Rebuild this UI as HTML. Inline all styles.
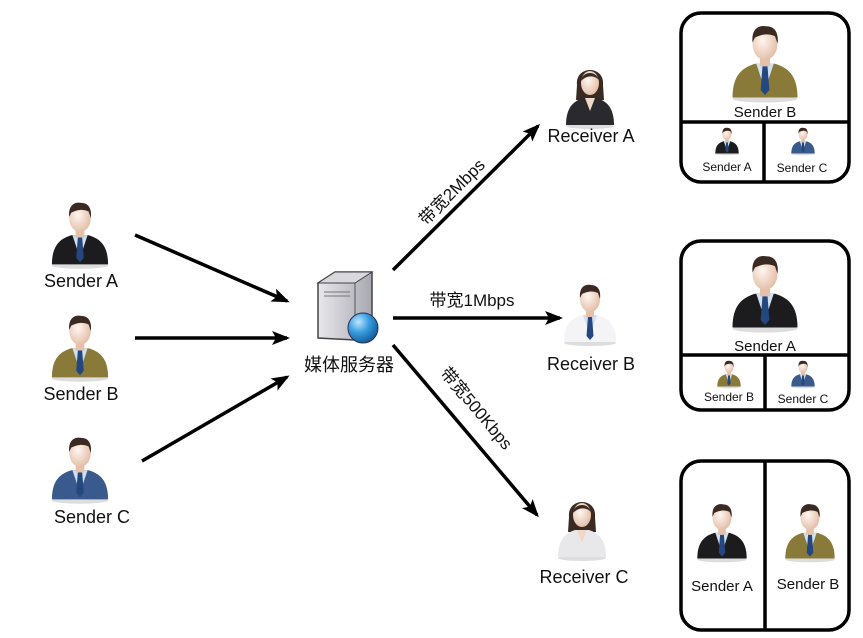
<!DOCTYPE html>
<html><head><meta charset="utf-8"><style>
html,body{margin:0;padding:0;background:#fff}
svg{display:block}
text{font-family:"Liberation Sans","Noto Sans CJK SC",sans-serif;fill:#111}
</style></head><body>
<svg width="863" height="638" viewBox="0 0 863 638" xmlns="http://www.w3.org/2000/svg">
<defs>
<marker id="ah" markerWidth="18" markerHeight="14" refX="15" refY="7" orient="auto" markerUnits="userSpaceOnUse">
<path d="M0,0 L18,7 L0,14 L4,7 Z" fill="#000"/></marker>
<radialGradient id="skin" cx="0.4" cy="0.4" r="0.7"><stop offset="0" stop-color="#fff6f0"/><stop offset="1" stop-color="#e0b8a0"/></radialGradient>
<radialGradient id="ball" cx="0.35" cy="0.3" r="0.7"><stop offset="0" stop-color="#bfe6ff"/><stop offset="0.5" stop-color="#3a9ee0"/><stop offset="1" stop-color="#15609e"/></radialGradient>
<linearGradient id="srv" x1="0" x2="1"><stop offset="0" stop-color="#e8e8ec"/><stop offset="1" stop-color="#a8a8b0"/></linearGradient>
<g id="man">
<ellipse cx="0" cy="31" rx="26" ry="3" fill="#ddd"/>
<path d="M-26,30 C-26,12 -18,6 -8,3 L8,3 C18,6 26,12 26,30 Z" fill="currentColor"/>
<path d="M-7,3 L0,24 L7,3 Z" fill="#cfe0f0"/>
<path d="M-2,5 L2,5 L3.5,24 L0,28 L-3.5,24 Z" fill="#23477e"/>
<rect x="-4" y="-4" width="8" height="9" fill="#e6c0a8"/>
<ellipse cx="0" cy="-13" rx="10" ry="13" fill="url(#skin)"/>
<path d="M-10,-14 C-11,-26 -4,-28 1,-27 C9,-27 11,-20 10,-13 L8,-19 C2,-22 -4,-20 -8,-18 Z" fill="#3a2a22"/>
</g>
<g id="woman">
<ellipse cx="0" cy="31" rx="24" ry="3" fill="#ddd"/>
<path d="M-13,-10 C-15,-30 15,-30 13,-10 L14,5 L-14,5 Z" fill="#3a2a22"/>
<path d="M-24,30 C-24,12 -16,6 -7,3 L7,3 C16,6 24,12 24,30 Z" fill="currentColor"/>
<path d="M-5,3 L0,16 L5,3 Z" fill="#f0d8c8"/>
<ellipse cx="0" cy="-12" rx="9" ry="12" fill="url(#skin)"/>
<path d="M-9,-14 C-8,-24 6,-25 9,-15 C4,-20 -3,-20 -9,-14 Z" fill="#3a2a22"/>
</g>
</defs>

<use href="#man" transform="translate(80 232) scale(1.08)" style="color:#1c1c1e"/>
<text x="81" y="287" font-size="18" text-anchor="middle">Sender A</text>
<use href="#man" transform="translate(80 345) scale(1.08)" style="color:#8a7a3a"/>
<text x="81" y="400" font-size="18" text-anchor="middle">Sender B</text>
<use href="#man" transform="translate(80 467) scale(1.08)" style="color:#3a5a8e"/>
<text x="92" y="523" font-size="18" text-anchor="middle">Sender C</text>

<g stroke="#000" stroke-width="3.5" marker-end="url(#ah)">
<line x1="135" y1="235" x2="287" y2="301"/>
<line x1="135" y1="338" x2="287" y2="338"/>
<line x1="142" y1="461" x2="287" y2="377"/>
<line x1="393" y1="270" x2="538" y2="126"/>
<line x1="393" y1="318" x2="560" y2="318"/>
<line x1="393" y1="345" x2="537" y2="515"/>
</g>

<path d="M318,283 L335,272 L372,272 L372,335 L355,340 L318,338 Z" fill="url(#srv)" stroke="#444" stroke-width="1.5"/>
<path d="M318,283 L335,272 L372,272 L355,283 Z" fill="#d8d8de" stroke="#444" stroke-width="1"/>
<line x1="355" y1="283" x2="355" y2="340" stroke="#555"/>
<line x1="324" y1="292" x2="350" y2="292" stroke="#777"/>
<line x1="324" y1="296" x2="350" y2="296" stroke="#777"/>
<circle cx="363" cy="328" r="15" fill="url(#ball)" stroke="#235" stroke-width="1"/>
<text x="349" y="371" font-size="18" text-anchor="middle">媒体服务器</text>

<text x="456" y="196" font-size="17" text-anchor="middle" transform="rotate(-45 456 196)">带宽2Mbps</text>
<text x="472" y="306" font-size="17" text-anchor="middle">带宽1Mbps</text>
<text x="472" y="412" font-size="17" text-anchor="middle" transform="rotate(50 472 412)">带宽500Kbps</text>

<use href="#woman" transform="translate(590 95) scale(1.0)" style="color:#2a2a2e"/>
<text x="591" y="142" font-size="18" text-anchor="middle">Receiver A</text>
<use href="#man" transform="translate(590 312) scale(1.0)" style="color:#f4f4f6"/>
<text x="591" y="370" font-size="18" text-anchor="middle">Receiver B</text>
<use href="#woman" transform="translate(582 527) scale(1.0)" style="color:#e8e8ea"/>
<text x="584" y="583" font-size="18" text-anchor="middle">Receiver C</text>

<g fill="none" stroke="#000" stroke-width="3.5">
<rect x="681" y="13" width="168" height="169" rx="20"/>
<line x1="681" y1="122" x2="849" y2="122"/>
<line x1="764" y1="122" x2="764" y2="182"/>
<rect x="681" y="241" width="168" height="169" rx="20"/>
<line x1="681" y1="355" x2="849" y2="355"/>
<line x1="765" y1="355" x2="765" y2="410"/>
<rect x="681" y="461" width="168" height="169" rx="20"/>
<line x1="765" y1="461" x2="765" y2="630"/>
</g>
<use href="#man" transform="translate(765 60) scale(1.25)" style="color:#8a7a3a"/>
<text x="765" y="117" font-size="15" text-anchor="middle">Sender B</text>
<use href="#man" transform="translate(727 140) scale(0.45)" style="color:#1c1c1e"/>
<text x="727" y="171" font-size="12" text-anchor="middle">Sender A</text>
<use href="#man" transform="translate(803 140) scale(0.45)" style="color:#3a5a8e"/>
<text x="802" y="172" font-size="12" text-anchor="middle">Sender C</text>

<use href="#man" transform="translate(765 290) scale(1.25)" style="color:#1c1c1e"/>
<text x="765" y="351" font-size="15" text-anchor="middle">Sender A</text>
<use href="#man" transform="translate(729 373) scale(0.45)" style="color:#8a7a3a"/>
<text x="729" y="401" font-size="12" text-anchor="middle">Sender B</text>
<use href="#man" transform="translate(803 373) scale(0.45)" style="color:#3a5a8e"/>
<text x="803" y="403" font-size="12" text-anchor="middle">Sender C</text>

<use href="#man" transform="translate(722 530) scale(0.95)" style="color:#1c1c1e"/>
<text x="722" y="591" font-size="15" text-anchor="middle">Sender A</text>
<use href="#man" transform="translate(810 530) scale(0.95)" style="color:#8a7a3a"/>
<text x="808" y="589" font-size="15" text-anchor="middle">Sender B</text>
</svg>
</body></html>
